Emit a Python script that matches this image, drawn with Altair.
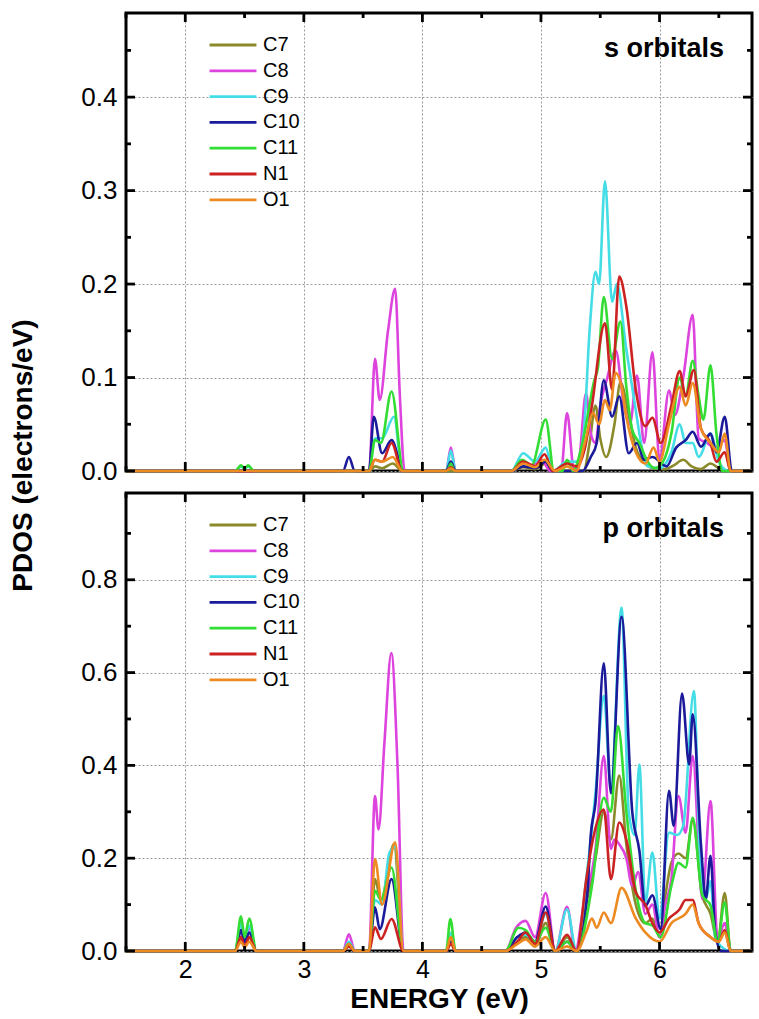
import altair as alt
import pandas as pd

series = ["C7", "C8", "C9", "C10", "C11", "N1", "O1"]
colors = ["#8A8A2A", "#DD44DD", "#44DDE6", "#1A1A9A", "#33DD33", "#CC2222", "#EE8A22"]

x_domain = [1.5, 6.78]
x_major = [2, 3, 4, 5, 6]
x_minor = [1.5, 2.5, 3.5, 4.5, 5.5, 6.5]
s_domain = [0, 0.49]
s_major = [0.0, 0.1, 0.2, 0.3, 0.4]
s_minor = [0.05, 0.15, 0.25, 0.35, 0.45]
p_domain = [0, 0.987]
p_major = [0.0, 0.2, 0.4, 0.6, 0.8]
p_minor = [0.1, 0.3, 0.5, 0.7, 0.9]

# ---- s orbitals: (energy eV, PDOS) ----
s_C7 = [(1.5,0),(3.55,0),(3.6,0.005),(3.66,0.003),(3.75,0.008),(3.83,0),(4.75,0),(4.85,0.004),(4.95,0.002),(5.04,0.008),(5.1,0),(5.36,0),(5.41,0.03),(5.46,0.07),(5.5,0.035),(5.55,0.015),(5.62,0.05),(5.67,0.095),(5.74,0.06),(5.8,0.025),(5.88,0.008),(5.95,0.003),(6.05,0.002),(6.12,0.006),(6.2,0.012),(6.27,0.005),(6.35,0.002),(6.43,0.008),(6.5,0.003),(6.58,0),(6.78,0)]
s_C8 = [(1.5,0),(3.55,0),(3.6,0.12),(3.64,0.076),(3.71,0.15),(3.77,0.195),(3.81,0.08),(3.85,0),(4.2,0),(4.24,0.025),(4.28,0),(4.75,0),(4.85,0.01),(4.92,0.006),(5.0,0.012),(5.08,0),(5.17,0),(5.22,0.062),(5.28,0),(5.32,0.01),(5.38,0.083),(5.42,0.04),(5.46,0.03),(5.5,0.07),(5.56,0.1),(5.63,0.129),(5.7,0.07),(5.75,0.05),(5.81,0.102),(5.87,0.03),(5.94,0.127),(6.0,0.012),(6.08,0.086),(6.13,0.06),(6.2,0.1),(6.28,0.167),(6.33,0.035),(6.4,0.03),(6.47,0.025),(6.55,0.033),(6.6,0),(6.78,0)]
s_C9 = [(1.5,0),(2.42,0),(2.47,0.005),(2.5,0.002),(2.53,0.005),(2.58,0),(3.55,0),(3.6,0.035),(3.66,0.035),(3.76,0.058),(3.83,0),(4.2,0),(4.24,0.022),(4.28,0),(4.75,0),(4.85,0.019),(4.95,0.01),(5.04,0.025),(5.1,0),(5.22,0.01),(5.3,0.01),(5.36,0.04),(5.41,0.15),(5.46,0.213),(5.49,0.2),(5.54,0.31),(5.6,0.181),(5.64,0.2),(5.72,0.13),(5.8,0.065),(5.83,0.04),(5.9,0.005),(6.0,0.003),(6.1,0.02),(6.17,0.05),(6.22,0.03),(6.28,0.03),(6.33,0.015),(6.43,0.04),(6.5,0.01),(6.58,0),(6.78,0)]
s_C10 = [(1.5,0),(3.33,0),(3.38,0.015),(3.43,0),(3.55,0),(3.59,0.058),(3.66,0.019),(3.74,0.033),(3.84,0),(4.2,0),(4.24,0.01),(4.28,0),(4.75,0),(4.85,0.005),(4.95,0.003),(5.04,0.01),(5.1,0),(5.35,0),(5.42,0.015),(5.47,0.03),(5.53,0.097),(5.6,0.058),(5.66,0.08),(5.74,0.019),(5.81,0.03),(5.87,0.012),(5.94,0.015),(6.06,0.005),(6.14,0.025),(6.22,0.033),(6.28,0.042),(6.35,0.026),(6.43,0.04),(6.48,0.02),(6.55,0.058),(6.61,0),(6.78,0)]
s_C11 = [(1.5,0),(2.42,0),(2.47,0.006),(2.5,0.003),(2.53,0.006),(2.58,0),(3.55,0),(3.6,0.033),(3.65,0.03),(3.74,0.085),(3.84,0),(4.21,0),(4.24,0.008),(4.27,0),(4.75,0),(4.84,0.012),(4.92,0.006),(5.04,0.055),(5.11,0),(5.18,0),(5.22,0.012),(5.27,0),(5.35,0.03),(5.45,0.097),(5.48,0.11),(5.53,0.186),(5.6,0.12),(5.67,0.16),(5.72,0.09),(5.77,0.044),(5.83,0.03),(5.9,0.01),(5.96,0.003),(6.03,0.01),(6.1,0.04),(6.17,0.1),(6.22,0.08),(6.28,0.118),(6.33,0.08),(6.37,0.055),(6.43,0.113),(6.48,0.04),(6.53,0),(6.78,0)]
s_N1 = [(1.5,0),(3.55,0),(3.6,0.012),(3.66,0.01),(3.74,0.03),(3.83,0),(4.2,0),(4.24,0.004),(4.28,0),(4.75,0),(4.85,0.01),(4.95,0.005),(5.03,0.018),(5.1,0),(5.22,0.008),(5.3,0.005),(5.38,0.03),(5.43,0.07),(5.54,0.158),(5.6,0.087),(5.66,0.208),(5.72,0.176),(5.8,0.087),(5.88,0.048),(5.94,0.057),(6.01,0.03),(6.1,0.07),(6.17,0.107),(6.22,0.08),(6.29,0.108),(6.35,0.045),(6.43,0.03),(6.48,0.01),(6.55,0.02),(6.6,0),(6.78,0)]
s_O1 = [(1.5,0),(3.55,0),(3.6,0.012),(3.66,0.01),(3.75,0.015),(3.83,0),(4.2,0),(4.24,0.003),(4.28,0),(4.75,0),(4.85,0.008),(4.95,0.004),(5.03,0.012),(5.12,0),(5.22,0.005),(5.3,0),(5.37,0.03),(5.44,0.062),(5.49,0.05),(5.54,0.076),(5.58,0.065),(5.63,0.105),(5.68,0.09),(5.72,0.058),(5.8,0.02),(5.88,0.008),(5.95,0.025),(6.0,0.01),(6.08,0.05),(6.17,0.09),(6.22,0.07),(6.28,0.094),(6.35,0.045),(6.43,0.03),(6.5,0.02),(6.55,0.04),(6.6,0),(6.78,0)]

# ---- p orbitals: (energy eV, PDOS) ----
p_C7 = [(1.5,0),(2.42,0),(2.47,0.03),(2.5,0.01),(2.54,0.03),(2.6,0),(3.33,0),(3.38,0.01),(3.43,0),(3.55,0),(3.6,0.155),(3.65,0.11),(3.76,0.23),(3.84,0),(4.2,0),(4.24,0.03),(4.28,0),(4.7,0),(4.8,0.02),(4.87,0.03),(4.95,0.01),(5.04,0.06),(5.12,0),(5.22,0.03),(5.3,0),(5.38,0.1),(5.46,0.2),(5.53,0.3),(5.59,0.24),(5.66,0.378),(5.72,0.23),(5.8,0.1),(5.88,0.06),(5.94,0.07),(6.0,0.03),(6.05,0.12),(6.1,0.19),(6.16,0.21),(6.22,0.2),(6.28,0.28),(6.36,0.12),(6.43,0.08),(6.49,0.02),(6.55,0.125),(6.6,0),(6.78,0)]
p_C8 = [(1.5,0),(2.42,0),(2.47,0.045),(2.5,0.02),(2.54,0.05),(2.6,0),(3.33,0),(3.38,0.036),(3.43,0),(3.55,0),(3.6,0.334),(3.63,0.262),(3.68,0.45),(3.738,0.642),(3.79,0.4),(3.84,0),(4.2,0),(4.24,0.03),(4.28,0),(4.7,0),(4.79,0.05),(4.87,0.065),(4.95,0.03),(5.04,0.125),(5.12,0),(5.22,0.095),(5.29,0),(5.36,0.1),(5.46,0.22),(5.53,0.42),(5.59,0.22),(5.62,0.24),(5.66,0.23),(5.72,0.2),(5.77,0.14),(5.82,0.17),(5.88,0.08),(5.94,0.1),(6.0,0.03),(6.05,0.1),(6.1,0.155),(6.16,0.334),(6.22,0.255),(6.28,0.42),(6.36,0.112),(6.43,0.323),(6.49,0.025),(6.55,0.06),(6.6,0),(6.78,0)]
p_C9 = [(1.5,0),(2.42,0),(2.47,0.06),(2.5,0.02),(2.54,0.055),(2.6,0),(3.33,0),(3.38,0.02),(3.43,0),(3.55,0),(3.6,0.11),(3.66,0.1),(3.72,0.21),(3.77,0.225),(3.84,0),(4.2,0),(4.24,0.04),(4.28,0),(4.7,0),(4.8,0.03),(4.87,0.035),(4.95,0.02),(5.04,0.08),(5.12,0),(5.22,0.09),(5.3,0),(5.38,0.15),(5.46,0.34),(5.53,0.55),(5.59,0.35),(5.68,0.74),(5.74,0.3),(5.79,0.25),(5.83,0.402),(5.88,0.105),(5.94,0.212),(6.0,0.07),(6.08,0.255),(6.15,0.25),(6.2,0.27),(6.29,0.56),(6.34,0.21),(6.39,0.112),(6.43,0.15),(6.47,0.03),(6.52,0.01),(6.6,0),(6.78,0)]
p_C10 = [(1.5,0),(2.42,0),(2.47,0.045),(2.5,0.02),(2.54,0.04),(2.6,0),(3.33,0),(3.38,0.015),(3.43,0),(3.55,0),(3.6,0.094),(3.64,0.047),(3.74,0.155),(3.84,0),(4.2,0),(4.24,0.02),(4.28,0),(4.7,0),(4.8,0.03),(4.87,0.04),(4.95,0.02),(5.04,0.096),(5.12,0),(5.22,0.02),(5.3,0),(5.39,0.12),(5.42,0.25),(5.46,0.32),(5.53,0.62),(5.59,0.34),(5.68,0.72),(5.77,0.3),(5.83,0.216),(5.88,0.097),(5.94,0.12),(6.01,0.047),(6.08,0.345),(6.12,0.27),(6.19,0.555),(6.25,0.402),(6.28,0.51),(6.35,0.227),(6.39,0.112),(6.43,0.205),(6.47,0.04),(6.52,0),(6.78,0)]
p_C11 = [(1.5,0),(2.42,0),(2.47,0.075),(2.5,0.03),(2.54,0.07),(2.6,0),(3.33,0),(3.38,0.015),(3.43,0),(3.55,0),(3.6,0.13),(3.65,0.11),(3.74,0.18),(3.84,0),(4.2,0),(4.236,0.069),(4.28,0),(4.7,0),(4.81,0.05),(4.87,0.045),(4.95,0.02),(5.04,0.05),(5.12,0),(5.22,0.02),(5.3,0),(5.43,0.14),(5.53,0.33),(5.59,0.3),(5.65,0.485),(5.72,0.3),(5.8,0.13),(5.88,0.06),(5.94,0.055),(6.01,0.03),(6.1,0.14),(6.16,0.19),(6.22,0.18),(6.28,0.287),(6.36,0.12),(6.43,0.098),(6.49,0.02),(6.55,0.105),(6.6,0),(6.78,0)]
p_N1 = [(1.5,0),(2.42,0),(2.47,0.03),(2.5,0.01),(2.54,0.03),(2.6,0),(3.33,0),(3.38,0.01),(3.43,0),(3.55,0),(3.6,0.051),(3.65,0.026),(3.74,0.069),(3.84,0),(4.2,0),(4.24,0.015),(4.28,0),(4.7,0),(4.8,0.02),(4.87,0.04),(4.95,0.015),(5.04,0.083),(5.12,0),(5.22,0.035),(5.3,0),(5.38,0.15),(5.43,0.23),(5.53,0.305),(5.59,0.155),(5.66,0.277),(5.72,0.24),(5.8,0.126),(5.88,0.1),(5.94,0.06),(6.0,0.04),(6.08,0.07),(6.17,0.09),(6.22,0.11),(6.28,0.11),(6.33,0.06),(6.43,0.03),(6.5,0.02),(6.55,0.045),(6.6,0),(6.78,0)]
p_O1 = [(1.5,0),(2.42,0),(2.47,0.02),(2.5,0.008),(2.54,0.02),(2.6,0),(3.33,0),(3.38,0.015),(3.43,0),(3.55,0),(3.6,0.198),(3.66,0.1),(3.77,0.234),(3.84,0),(4.2,0),(4.24,0.03),(4.28,0),(4.7,0),(4.8,0.015),(4.87,0.025),(4.95,0.01),(5.04,0.03),(5.12,0),(5.22,0.01),(5.3,0),(5.38,0.04),(5.43,0.07),(5.47,0.05),(5.53,0.083),(5.59,0.06),(5.68,0.136),(5.8,0.07),(5.88,0.04),(6.0,0.02),(6.1,0.06),(6.22,0.08),(6.28,0.1),(6.33,0.06),(6.43,0.03),(6.5,0.02),(6.55,0.04),(6.6,0),(6.78,0)]

s_lists = [s_C7, s_C8, s_C9, s_C10, s_C11, s_N1, s_O1]
p_lists = [p_C7, p_C8, p_C9, p_C10, p_C11, p_N1, p_O1]

FONT = "Liberation Sans"
W = 626
H = 458


def to_df(lists):
    rows = []
    for name, pts in zip(series, lists):
        for e, v in pts:
            rows.append({"E": e, "V": v, "series": name})
    return pd.DataFrame(rows)


def panel(lists, ydom, ymaj, ymin, label, bottom, label_y):
    xs = alt.Scale(domain=x_domain, nice=False, zero=False)
    ys = alt.Scale(domain=ydom, nice=False, zero=False)
    if bottom:
        xaxis = alt.Axis(values=x_major, format="d", grid=True, gridDash=[2, 2],
                         gridColor="#9a9a9a", ticks=False, domain=False, labelFontSize=25,
                         labelFont=FONT, labelColor="black", labelPadding=6,
                         title="ENERGY (eV)", titleFontSize=28, titleFont=FONT,
                         titleFontWeight="bold", titleColor="black", titlePadding=3)
        yaxis = alt.Axis(values=ymaj, format=".1f", grid=True, gridDash=[2, 2],
                         gridColor="#9a9a9a", ticks=False, domain=False, labelFontSize=26,
                         labelFont=FONT, labelColor="black", labelPadding=9,
                         title="PDOS (electrons/eV)", titleFontSize=28, titleFont=FONT,
                         titleFontWeight="bold", titleColor="black", titleX=-89, titleY=-38)
        xtitle = "ENERGY (eV)"
        ytitle = "PDOS (electrons/eV)"
    else:
        xaxis = alt.Axis(values=x_major, format="d", grid=True, gridDash=[2, 2],
                         gridColor="#9a9a9a", ticks=False, domain=False, labels=False,
                         title=None)
        yaxis = alt.Axis(values=ymaj, format=".1f", grid=True, gridDash=[2, 2],
                         gridColor="#9a9a9a", ticks=False, domain=False, labelFontSize=26,
                         labelFont=FONT, labelColor="black", labelPadding=9, title=None)
        xtitle = None
        ytitle = None

    lines = alt.Chart(to_df(lists)).mark_line(strokeWidth=2.6, interpolate="monotone").encode(
        x=alt.X("E:Q", scale=xs, axis=xaxis, title=xtitle),
        y=alt.Y("V:Q", scale=ys, axis=yaxis, title=ytitle),
        color=alt.Color("series:N", scale=alt.Scale(domain=series, range=colors),
                        legend=alt.Legend(title=None, orient="none", legendX=82, legendY=label_y,
                                          symbolType="stroke", symbolSize=2200,
                                          symbolStrokeWidth=2.8, labelFontSize=20,
                                          labelFont=FONT, labelColor="black", clipHeight=20,
                                          rowPadding=5.8, labelOffset=5, padding=0)),
        order=alt.Order("E:Q"),
    )

    # tick tables use the same field names as the curves so the axes merge
    xmaj_df = pd.DataFrame({"E": x_major})
    xmin_df = pd.DataFrame({"E": x_minor})
    ymaj_df = pd.DataFrame({"V": ymaj})
    ymin_df = pd.DataFrame({"V": ymin})

    def xt(df, L):
        b = alt.Chart(df).mark_rule(color="black", strokeWidth=2.8)
        xe = alt.X("E:Q", scale=xs, title=xtitle)
        return [b.encode(x=xe, y=alt.value(H), y2=alt.value(H - L)),
                b.encode(x=xe, y=alt.value(0), y2=alt.value(L))]

    def yt(df, L):
        b = alt.Chart(df).mark_rule(color="black", strokeWidth=2.8)
        ye = alt.Y("V:Q", scale=ys, title=ytitle)
        return [b.encode(y=ye, x=alt.value(0), x2=alt.value(L)),
                b.encode(y=ye, x=alt.value(W), x2=alt.value(W - L))]

    tick_layers = xt(xmaj_df, 9) + xt(xmin_df, 5) + yt(ymaj_df, 9) + yt(ymin_df, 5)

    txt = alt.Chart(pd.DataFrame({"t": [label]})).mark_text(
        align="right", baseline="middle", fontSize=27, font=FONT, fontWeight="bold", color="black"
    ).encode(text="t:N", x=alt.value(598), y=alt.value(36))

    return alt.layer(lines, *tick_layers, txt).properties(width=W, height=H)


top = panel(s_lists, s_domain, s_major, s_minor, "s orbitals", False, 22)
bot = panel(p_lists, p_domain, p_major, p_minor, "p orbitals", True, 22)

chart = alt.vconcat(top, bot, spacing=22, bounds="flush").resolve_scale(color="independent").properties(
    padding={"left": 7, "top": 10, "right": 0, "bottom": 0},
    background="white",
).configure_view(stroke="black", strokeWidth=3)

chart.save("out.html", embed_options={"renderer": "svg", "actions": False})
